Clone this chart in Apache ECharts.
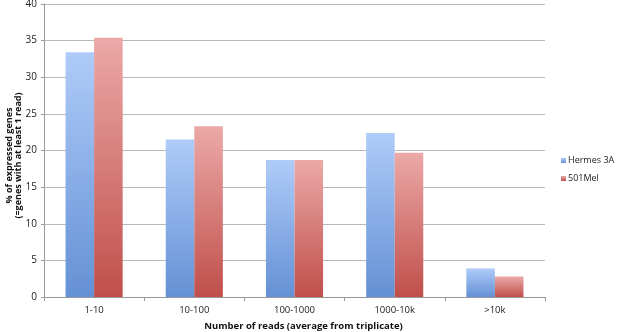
<!DOCTYPE html>
<html>
<head>
<meta charset="utf-8">
<script src="https://cdn.jsdelivr.net/npm/echarts@6/dist/echarts.min.js"></script>
<style>
  html, body { margin: 0; padding: 0; background: #fff; }
  #chart { width: 617px; height: 332px; }
</style>
</head>
<body>
<div id="chart"></div>
<script>
var categories = ['1-10', '10-100', '100-1000', '1000-10k', '>10k'];
var hermes = [33.4, 21.5, 18.7, 22.4, 3.9];
var mel501 = [35.4, 23.3, 18.7, 19.7, 2.8];
var seriesNames = ['Hermes 3A', '501Mel'];

var myChart = echarts.init(document.getElementById('chart'));

function grad(top, bottom) {
  return new echarts.graphic.LinearGradient(0, 0, 0, 1, [
    { offset: 0, color: top },
    { offset: 1, color: bottom }
  ]);
}

var font = 'Open Sans';

option = {
  animation: false,
  backgroundColor: '#fff',
  grid: { left: 44, right: 72, top: 4, bottom: 35, containLabel: false, outerBoundsMode: 'none' },
  legend: {
    orient: 'vertical',
    left: 561,
    top: 156,
    padding: 0,
    itemWidth: 5,
    itemHeight: 5,
    itemGap: 9,
    icon: 'rect',
    textStyle: { fontFamily: font, fontSize: 9, color: '#222', padding: [0, 0, 0, -3], overflow: 'none' },
    data: seriesNames
  },
  xAxis: {
    type: 'category',
    data: categories,
    name: 'Number of reads (average from triplicate)',
    nameLocation: 'middle',
    nameGap: 24,
    nameTextStyle: { fontFamily: font, fontSize: 9.5, fontWeight: 'bold', color: '#111', padding: [0, 0, 0, 18] },
    axisLine: { lineStyle: { color: '#999' } },
    axisTick: { show: true, length: 4, lineStyle: { color: '#999' } },
    axisLabel: { fontFamily: font, fontSize: 9.5, color: '#222', margin: 8 }
  },
  yAxis: {
    type: 'value',
    min: 0,
    max: 40,
    interval: 5,
    name: '% of expressed genes\n(=genes with at least 1 read)',
    nameLocation: 'middle',
    nameGap: 21,
    nameMoveOverlap: false,
    nameTextStyle: { fontFamily: font, fontSize: 9, fontWeight: 'bold', color: '#111', lineHeight: 9, padding: [0, 10, 0, 0] },
    axisLine: { show: true, lineStyle: { color: '#999' } },
    axisTick: { show: true, length: 3, lineStyle: { color: '#999' } },
    axisLabel: { fontFamily: font, fontSize: 10, color: '#222', margin: 7 },
    splitLine: { lineStyle: { color: '#b8b8b8', width: 1 } }
  },
  series: [
    {
      name: seriesNames[0],
      type: 'bar',
      data: hermes,
      barGap: '0%',
      barCategoryGap: '43%',
      itemStyle: { color: grad('#afcbf8', '#6491d5') }
    },
    {
      name: seriesNames[1],
      type: 'bar',
      data: mel501,
      itemStyle: { color: grad('#eba9a7', '#c04f4b') }
    }
  ]
};

myChart.setOption(option);
</script>
</body>
</html>
